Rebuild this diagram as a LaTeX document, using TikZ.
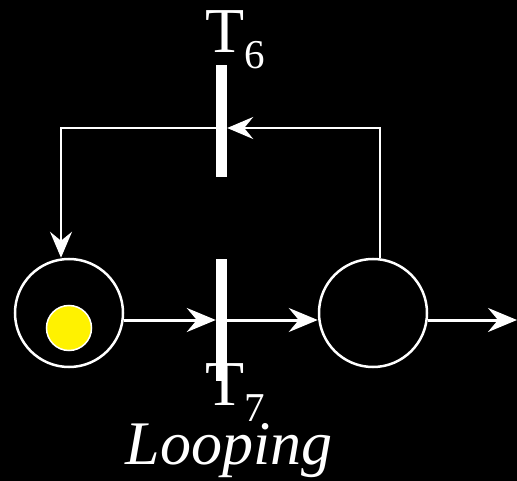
\documentclass[tikz,border=0pt]{standalone}
\usepackage{fontspec}
\setmainfont{Liberation Serif}
\usetikzlibrary{arrows.meta}

\newcommand{\lowsub}[1]{\raisebox{-16pt}{\fontsize{41}{41}\selectfont #1}}

\begin{document}
\begin{tikzpicture}[x=1pt, y=-1pt,
        every node/.style={text=white, font=\fontsize{64}{64}\selectfont},
        place/.style={circle, draw=white, line width=2.5pt, minimum size=108pt, inner sep=0pt},
        token/.style={circle, draw=white, fill=yellow, line width=1.5pt, minimum size=45pt, inner sep=0pt},
        bar/.style={rectangle, fill=white, minimum width=11pt, inner sep=0pt},
        arc/.style={draw=white, line width=3pt, -{Stealth[length=29pt, width=24pt, inset=10pt]}},
        loop arc/.style={draw=white, line width=2pt, -{Stealth[length=26pt, width=22pt, inset=9pt]}}]
        % Background and frame
        \fill[black] (0,0) rectangle (517,481);
        \useasboundingbox (0,0) rectangle (517,481);

        % Places, token and transitions
        \node[place] (p1) at (69,313) {};
        \node[token] (tok) at (69,328) {};
        \node[place] (p2) at (373,313) {};
        \node[bar, minimum height=112pt] (t6) at (221.5,121) {};
        \node[bar, minimum height=122pt] (t7) at (221.5,320) {};
        \coordinate (loop) at (380,128);
        \coordinate (out) at (517,320);

        % Labels
        \node[anchor=base west, inner sep=0pt] (l6) at (205,53) {T\lowsub{6}};
        \node[anchor=base west, inner sep=0pt] (l7) at (205,405) {T\lowsub{7}};
        \node[anchor=base, inner sep=0pt, font=\fontsize{62}{62}\selectfont\itshape] (cap) at (229,464) {Looping};

        % Arcs
        \draw[arc] (p1.east |- t7) -- (t7.west);
        \draw[arc] (t7) -- (p2.west |- t7);
        \draw[arc] (p2.east |- t7) -- (out);
        \draw[loop arc] ([xshift=7pt]p2.north) -- (loop) -- (t6.east |- loop);
        \draw[loop arc] (t6.west |- loop) -| ([xshift=-8pt]p1.north);
    \end{tikzpicture}
\end{document}
